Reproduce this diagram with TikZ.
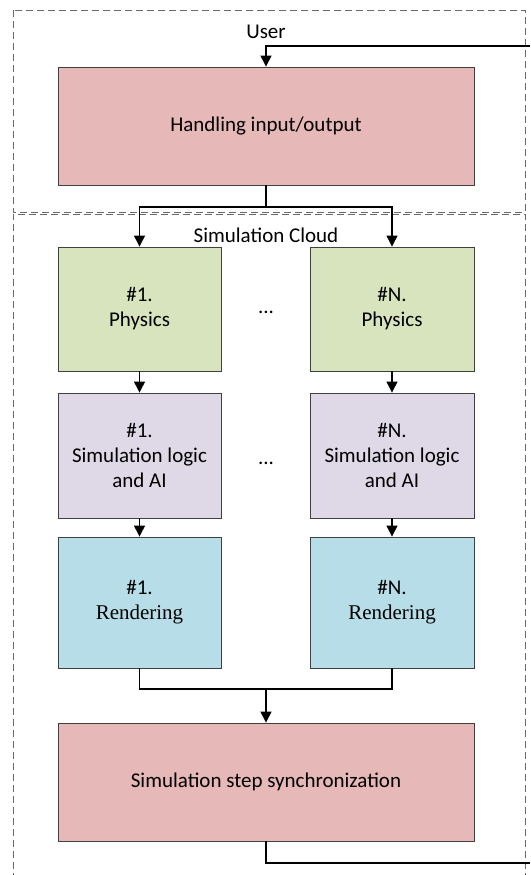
\documentclass[tikz,border=0pt]{standalone}
\usepackage{fontspec}
\setmainfont{Carlito}
\newfontfamily\timesf{Liberation Serif}
\usetikzlibrary{arrows.meta}
\definecolor{pinkf}{HTML}{E6B8B7}
\definecolor{greenf}{HTML}{D7E4BD}
\definecolor{lavf}{HTML}{DFD9E7}
\definecolor{bluef}{HTML}{B7DEE8}
\definecolor{edgec}{HTML}{404040}
\definecolor{dashc}{HTML}{6A6A6A}
\tikzset{
  box/.style={draw=edgec, line width=0.9pt, inner sep=0pt, align=center,
    font=\fontsize{21}{25}\selectfont},
  conn/.style={line width=1.3pt, draw=black},
  arr/.style={conn, -{Triangle[length=11pt,width=11pt]}},
  region/.style={draw=dashc, line width=0.9pt, dash pattern=on 7pt off 4pt},
  lbl/.style={font=\fontsize{21}{25}\selectfont, inner sep=0pt}
}
\begin{document}
\begin{tikzpicture}[x=1pt,y=-1pt]
\clip (0,0) rectangle (530,875);
\fill[white] (0,0) rectangle (530,875);
% regions
\draw[region] (13,10) rectangle (525,212);
\draw[region] (13,880) -- (13,214) -- (525,214) -- (525,880);
\node[lbl] (user) at (266,32) {User};
\node[lbl] (cloud) at (266,235) {Simulation Cloud};
% boxes
\node[box, fill=pinkf, minimum width=416pt, minimum height=118pt] (io) at (266,126) {Handling input/output};
\node[box, fill=greenf, minimum width=163pt, minimum height=124pt] (ph1) at (139.5,309) {\#1.\\Physics};
\node[box, fill=greenf, minimum width=164pt, minimum height=124pt] (phN) at (392,309) {\#N.\\Physics};
\node[box, fill=lavf, minimum width=163pt, minimum height=125pt] (lg1) at (139.5,455.5) {\#1.\\Simulation logic\\and AI};
\node[box, fill=lavf, minimum width=164pt, minimum height=125pt] (lgN) at (392,455.5) {\#N.\\Simulation logic\\and AI};
\node[box, fill=bluef, minimum width=163pt, minimum height=131pt] (rd1) at (139.5,602.5) {\#1.\\{\timesf Rendering}};
\node[box, fill=bluef, minimum width=164pt, minimum height=131pt] (rdN) at (392,602.5) {\#N.\\{\timesf Rendering}};
\node[box, fill=pinkf, minimum width=416pt, minimum height=118pt] (sync) at (266,782) {Simulation step synchronization};
\node[lbl] (dots1) at (266,312) {...};
\node[lbl] (dots2) at (266,463) {...};
% coordinates
\coordinate (split) at (266,207);
\coordinate (join) at (266,689);
\coordinate (fbout) at (530,863);
\coordinate (fbin) at (530,46);
% connectors
\draw[conn] (io.south) -- (split);
\draw[arr] (split) -| (ph1.north);
\draw[arr] (split) -| (phN.north);
\draw[arr] (ph1) -- (lg1);
\draw[arr] (phN) -- (lgN);
\draw[arr] (lg1) -- (rd1);
\draw[arr] (lgN) -- (rdN);
\draw[conn] (rd1.south) |- (join);
\draw[conn] (rdN.south) |- (join);
\draw[arr] (join) -- (sync.north);
\draw[conn] (sync.south) |- (fbout);
\draw[arr] (fbin) -| (io.north);
\end{tikzpicture}
\end{document}
